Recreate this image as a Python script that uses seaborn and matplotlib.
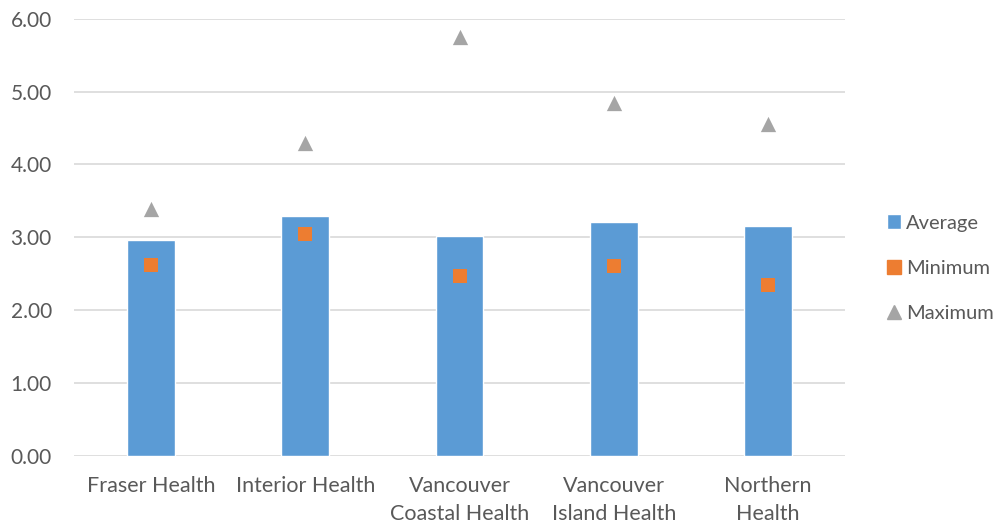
import pandas as pd
import matplotlib.pyplot as plt
import seaborn as sns
from matplotlib.lines import Line2D
from matplotlib.patches import Patch

# Datos
regions = ["Fraser Health", "Interior Health", "Vancouver\nCoastal Health",
           "Vancouver\nIsland Health", "Northern\nHealth"]
average = [2.96, 3.29, 3.01, 3.21, 3.15]
minimum = [2.62, 3.05, 2.47, 2.60, 2.34]
maximum = [3.39, 4.29, 5.75, 4.85, 4.56]

df = pd.DataFrame({"Region": regions, "Average": average,
                   "Minimum": minimum, "Maximum": maximum})

blue = "#5B9BD5"
orange = "#ED7D31"
grey = "#A5A5A5"
text_col = "#595959"

sns.set_theme(style="white")
plt.rcParams["font.family"] = ["Lato", "DejaVu Sans"]

fig = plt.figure(figsize=(10.08, 5.26), dpi=100)
ax = fig.add_axes([0.0734, 0.134, 0.765, 0.830])

sns.barplot(data=df, x="Region", y="Average", color=blue, width=0.31,
            saturation=1, ax=ax, zorder=2)
sns.stripplot(data=df, x="Region", y="Minimum", color=orange, marker="s",
              size=10, jitter=False, linewidth=0, ax=ax, zorder=3)
sns.stripplot(data=df, x="Region", y="Maximum", color=grey, marker="^",
              size=11, jitter=False, linewidth=0, ax=ax, zorder=3)

ax.set_ylim(0, 6)
ax.set_xlim(-0.5, 4.5)
ax.set_yticks([0, 1, 2, 3, 4, 5, 6])
ax.set_yticklabels([f"{v:.2f}" for v in range(7)])
ax.yaxis.grid(True, color="#D9D9D9", linewidth=1.2, zorder=0)
ax.set_axisbelow(True)
for s in ax.spines.values():
    s.set_visible(False)
ax.set_xlabel("")
ax.set_ylabel("")
ax.tick_params(axis="both", length=0, colors=text_col)
ax.tick_params(axis="x", labelsize=15.5, pad=15)
ax.tick_params(axis="y", labelsize=15, pad=16)
for lbl in ax.get_xticklabels():
    lbl.set_linespacing(1.45)

handles = [
    Patch(facecolor=blue, label="Average"),
    Line2D([], [], marker="s", linestyle="", color=orange, markersize=10, label="Minimum"),
    Line2D([], [], marker="^", linestyle="", color=grey, markersize=10, label="Maximum"),
]
leg = fig.legend(handles=handles, loc="center left", bbox_to_anchor=(0.872, 0.49),
                 frameon=False, fontsize=14.5, labelspacing=1.4,
                 handlelength=0.7, handletextpad=0.25, borderaxespad=0)
for t in leg.get_texts():
    t.set_color(text_col)

fig.savefig("out.png", dpi=100)
